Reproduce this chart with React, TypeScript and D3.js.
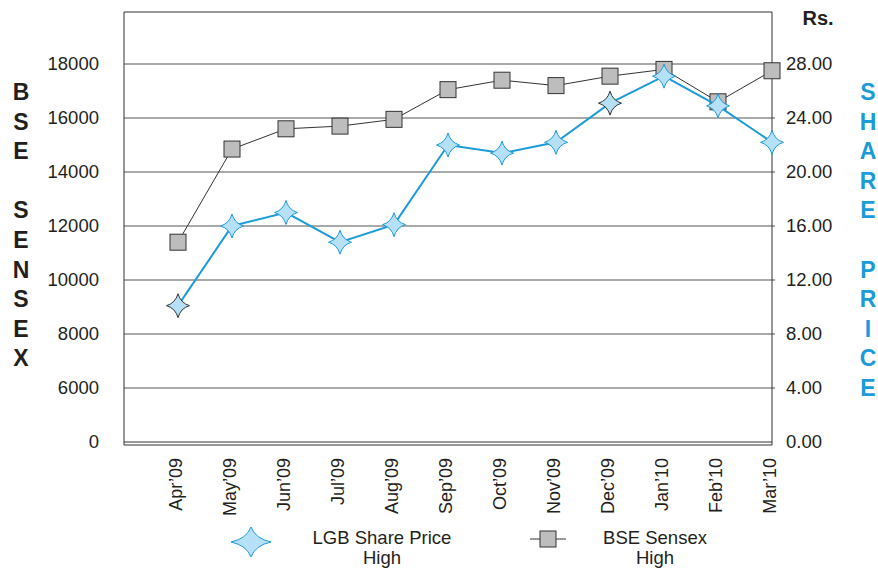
import React from 'react';
import * as d3 from 'd3';

const months = ['Apr’09', 'May’09', 'Jun’09', 'Jul’09', 'Aug’09', 'Sep’09', 'Oct’09', 'Nov’09', 'Dec’09', 'Jan’10', 'Feb’10', 'Mar’10'];
const sensexHigh = [11400, 14850, 15600, 15700, 15950, 17050, 17400, 17200, 17550, 17800, 16600, 17750];
const sharePriceHigh = [10.1, 16.0, 17.0, 14.8, 16.1, 22.0, 21.4, 22.2, 25.1, 27.1, 24.9, 22.2];
const leftTicks = [4000, 6000, 8000, 10000, 12000, 14000, 16000, 18000];
const leftTickLabels = ['0', '6000', '8000', '10000', '12000', '14000', '16000', '18000'];
const rightTicks = [0, 4, 8, 12, 16, 20, 24, 28];
const leftTitle = ['B', 'S', 'E', '', 'S', 'E', 'N', 'S', 'E', 'X'];
const rightTitle = ['S', 'H', 'A', 'R', 'E', '', 'P', 'R', 'I', 'C', 'E'];

const BLUE = '#1b9bd8';
const INK = '#231f20';
const FONT = '"Liberation Sans", Arial, Helvetica, sans-serif';

// concave 4-point star
const starPath = (rx: number, ry: number) => {
  const ax = rx * 0.22, ay = ry * 0.22;
  return `M0,${-ry} Q${ax},${-ay} ${rx},0 Q${ax},${ay} 0,${ry} Q${-ax},${ay} ${-rx},0 Q${-ax},${-ay} 0,${-ry} Z`;
};

const App: React.FC = () => {
  const left = 124, right = 772, top = 12, bottom = 442;

  const x = d3.scalePoint<string>().domain(['', ...months]).range([left, right]);
  const yL = d3.scaleLinear().domain([4000, 18000]).range([bottom, 64]);
  const yR = d3.scaleLinear().domain([0, 28]).range([bottom, 64]);

  const sensexLine = d3.line<number>().x((_, i) => x(months[i])!).y(d => yL(d));
  const priceLine = d3.line<number>().x((_, i) => x(months[i])!).y(d => yR(d));

  return (
    <svg width={878} height={569} style={{ position: 'absolute', left: 0, top: 0, fontFamily: FONT }}>
      <rect width={878} height={569} fill="#fff" />
      {/* grid */}
      {leftTicks.slice(1).map(t => (
        <line key={t} x1={left} x2={right + 3} y1={yL(t)} y2={yL(t)} stroke="#555" strokeWidth={1} />
      ))}
      {/* frame */}
      <line x1={left} x2={left} y1={top} y2={bottom + 3} stroke="#333" />
      <line x1={right} x2={right} y1={top} y2={bottom + 3} stroke="#333" />
      <line x1={left} x2={right} y1={top} y2={top} stroke="#333" />
      <line x1={left} x2={right} y1={bottom} y2={bottom} stroke="#333" />
      <line x1={left} x2={right} y1={bottom + 3} y2={bottom + 3} stroke="#333" />

      {/* left ticks */}
      {leftTicks.map((t, i) => (
        <text key={t} x={99} y={yL(t)} dy="0.35em" textAnchor="end" fontSize={18.5} fill={INK}>{leftTickLabels[i]}</text>
      ))}
      {/* right ticks */}
      {rightTicks.map(t => (
        <text key={t} x={786} y={yR(t)} dy="0.35em" fontSize={18.5} fill={INK}>{t.toFixed(2)}</text>
      ))}
      <text x={818} y={25} textAnchor="middle" fontSize={20} fontWeight="bold" fill={INK}>Rs.</text>

      {/* vertical titles */}
      {leftTitle.map((c, i) => (
        <text key={i} x={21} y={100 + i * 29.6} textAnchor="middle" fontSize={23} fontWeight="bold" fill={INK}>{c}</text>
      ))}
      {rightTitle.map((c, i) => (
        <text key={i} x={868} y={100 + i * 29.6} textAnchor="middle" fontSize={23} fontWeight="bold" fill={BLUE}>{c}</text>
      ))}

      {/* x labels */}
      {months.map(m => (
        <text key={m} transform={`translate(${x(m)! + 4},${458}) rotate(-90)`} textAnchor="end" fontSize={18} fill={INK}>{m}</text>
      ))}

      {/* sensex */}
      <path d={sensexLine(sensexHigh)!} fill="none" stroke="#333" strokeWidth={1} />
      {sensexHigh.map((v, i) => (
        <rect key={i} x={x(months[i])! - 8} y={yL(v) - 8} width={16} height={16} fill="#bdbdbd" stroke="#333" strokeWidth={1} />
      ))}

      {/* share price */}
      <path d={priceLine(sharePriceHigh)!} fill="none" stroke={BLUE} strokeWidth={2} />
      {sharePriceHigh.map((v, i) => (
        <path key={i} d={starPath(11.5, 12)} transform={`translate(${x(months[i])},${yR(v)})`}
          fill="#b5e0f7" stroke={i === 0 || i === 8 ? '#333' : BLUE} strokeWidth={1} />
      ))}

      {/* legend */}
      <path d={starPath(20, 15)} transform="translate(251,542)" fill="#b5e0f7" stroke={BLUE} strokeWidth={1} />
      <text x={382} y={544} textAnchor="middle" fontSize={18.5} fill={INK}>LGB Share Price</text>
      <text x={382} y={564} textAnchor="middle" fontSize={18.5} fill={INK}>High</text>
      <line x1={530} x2={566} y1={539} y2={539} stroke="#333" />
      <rect x={540} y={531} width={16} height={16} fill="#bdbdbd" stroke="#333" />
      <text x={655} y={544} textAnchor="middle" fontSize={18.5} fill={INK}>BSE Sensex</text>
      <text x={655} y={564} textAnchor="middle" fontSize={18.5} fill={INK}>High</text>
    </svg>
  );
};

export default App;
